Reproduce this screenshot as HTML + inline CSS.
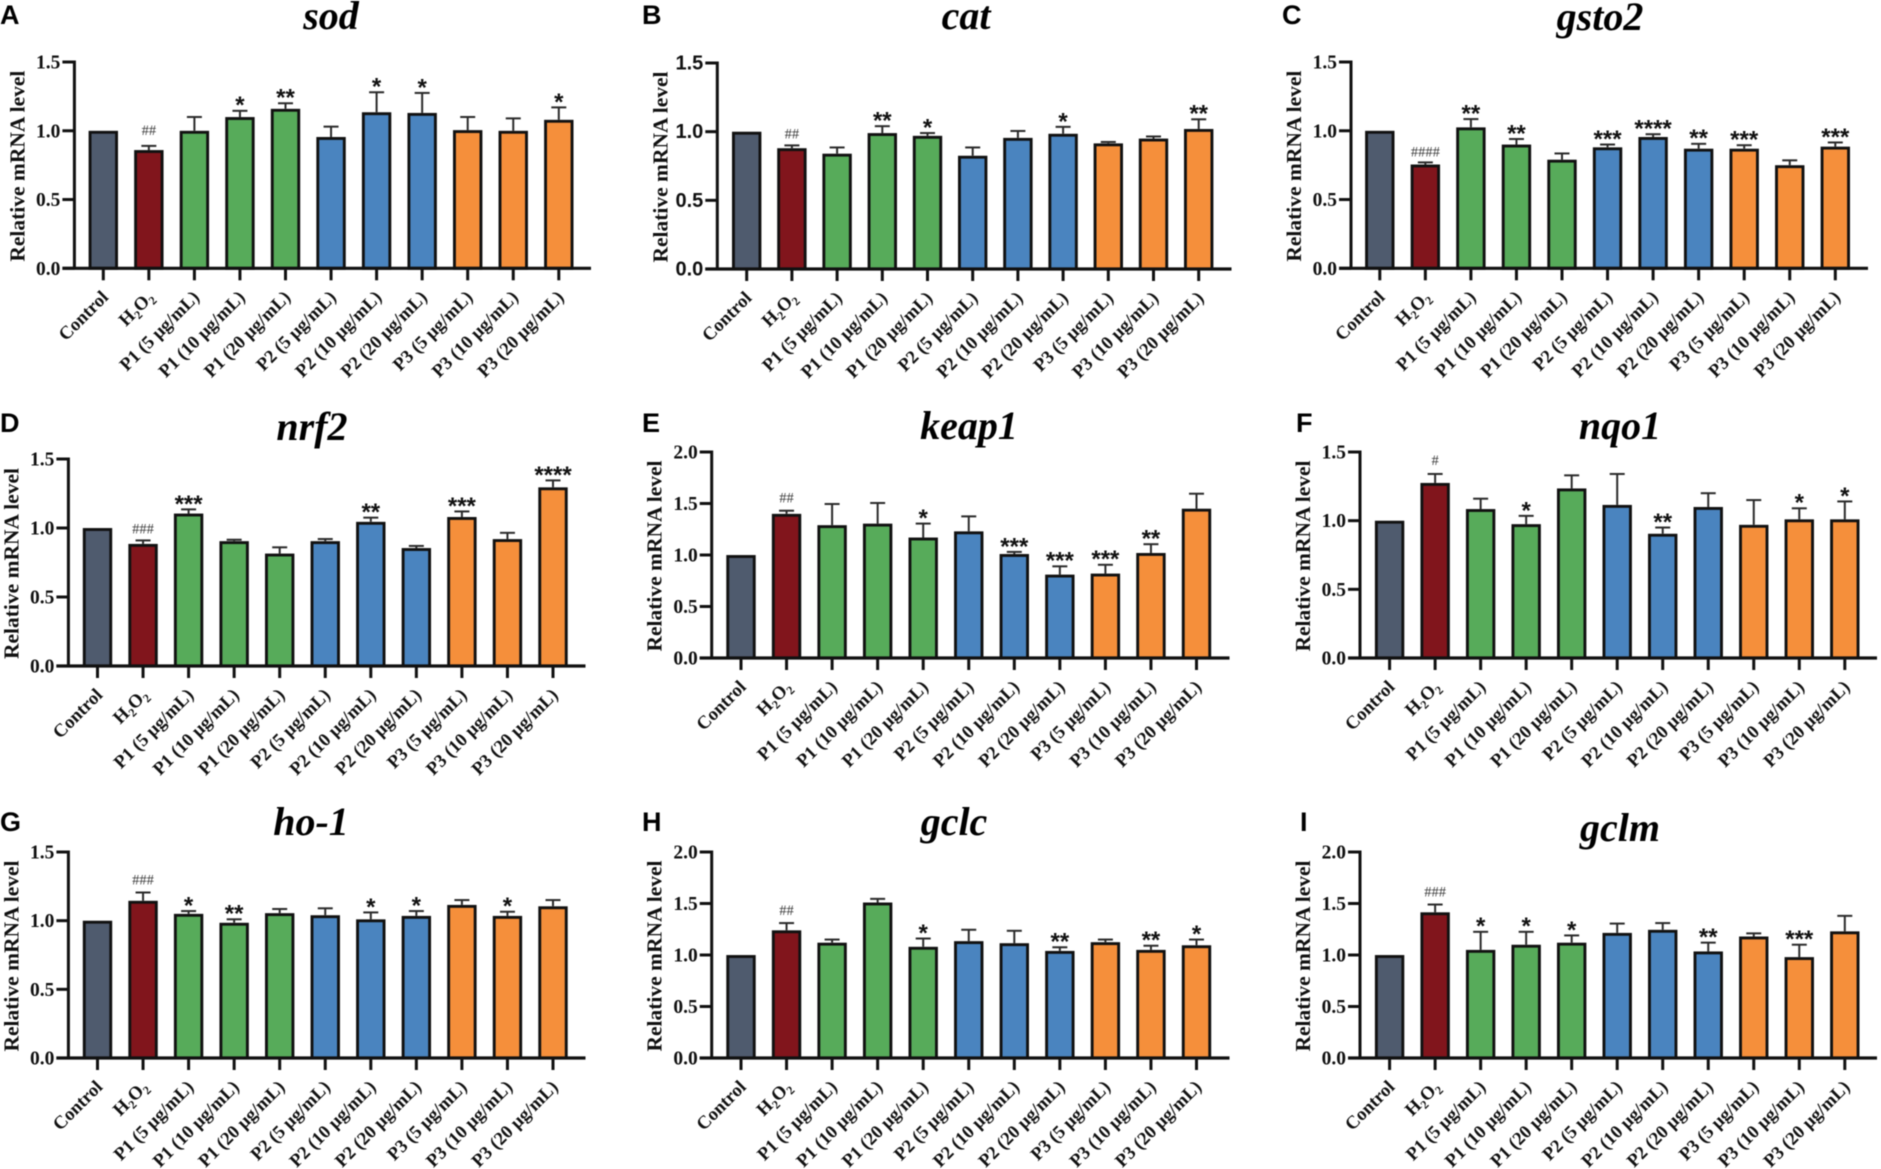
<!DOCTYPE html>
<html lang="en">
<head>
<meta charset="utf-8">
<title>Relative mRNA levels of antioxidant genes</title>
<style>
html,body{margin:0;padding:0;background:#fff;width:1881px;height:1169px;overflow:hidden}
svg{display:block;filter:blur(0.5px)}
text{font-family:"Liberation Serif",serif;fill:#111}
</style>
</head>
<body>
<svg id="figure" xmlns="http://www.w3.org/2000/svg" width="1881" height="1169" viewBox="0 0 1881 1169"></svg>
<script>
const categories = ["Control","H2O2","P1 (5 μg/mL)","P1 (10 μg/mL)","P1 (20 μg/mL)","P2 (5 μg/mL)","P2 (10 μg/mL)","P2 (20 μg/mL)","P3 (5 μg/mL)","P3 (10 μg/mL)","P3 (20 μg/mL)"];
const groupColors = ["#4f5b6e","#81151c","#57ab5a","#57ab5a","#57ab5a","#4a84bf","#4a84bf","#4a84bf","#f58f3b","#f58f3b","#f58f3b"];
const yTicks15 = [0,0.5,1,1.5];
const yTicks20 = [0,0.5,1,1.5,2];

const sodMeans = [1.0,0.86,1.0,1.1,1.16,0.955,1.135,1.13,1.005,1.0,1.08];
const sodTops = [1.0,0.89,1.1,1.145,1.2,1.03,1.28,1.275,1.1,1.09,1.17];
const sodSig = ["","##","","*","**","","*","*","","","*"];

const catMeans = [1.0,0.88,0.84,0.99,0.97,0.825,0.955,0.985,0.915,0.95,1.02];
const catTops = [1.0,0.9,0.885,1.04,0.99,0.885,1.005,1.035,0.925,0.965,1.09];
const catSig = ["","##","","**","*","","","*","","","**"];

const gsto2Means = [1.0,0.755,1.025,0.9,0.79,0.88,0.955,0.87,0.87,0.75,0.885];
const gsto2Tops = [1.0,0.77,1.085,0.94,0.835,0.9,0.975,0.905,0.895,0.785,0.915];
const gsto2Sig = ["","####","**","**","","***","****","**","***","","***"];

const nrf2Means = [1.0,0.885,1.105,0.905,0.815,0.905,1.045,0.855,1.08,0.92,1.295];
const nrf2Tops = [1.0,0.91,1.135,0.915,0.86,0.92,1.075,0.87,1.12,0.965,1.345];
const nrf2Sig = ["","###","***","","","","**","","***","","****"];

const keap1Means = [1.0,1.4,1.29,1.305,1.17,1.23,1.01,0.81,0.82,1.02,1.45];
const keap1Tops = [1.0,1.43,1.495,1.505,1.305,1.375,1.03,0.89,0.905,1.105,1.595];
const keap1Sig = ["","##","","","*","","***","***","***","**",""];

const nqo1Means = [1.0,1.275,1.085,0.975,1.235,1.115,0.905,1.1,0.97,1.01,1.01];
const nqo1Tops = [1.0,1.34,1.16,1.035,1.33,1.34,0.95,1.2,1.15,1.09,1.14];
const nqo1Sig = ["","#","","*","","","**","","","*","*"];

const ho1Means = [1.0,1.145,1.05,0.985,1.055,1.04,1.01,1.035,1.115,1.035,1.105];
const ho1Tops = [1.0,1.205,1.07,1.01,1.085,1.09,1.06,1.07,1.15,1.065,1.15];
const ho1Sig = ["","###","*","**","","","*","*","","*",""];

const gclcMeans = [1.0,1.24,1.12,1.51,1.08,1.135,1.115,1.04,1.125,1.05,1.095];
const gclcTops = [1.0,1.31,1.15,1.545,1.16,1.245,1.235,1.075,1.15,1.09,1.15];
const gclcSig = ["","##","","","*","","","**","","**","*"];

const gclmMeans = [1.0,1.415,1.05,1.1,1.12,1.215,1.245,1.035,1.18,0.98,1.23];
const gclmTops = [1.0,1.49,1.225,1.225,1.19,1.305,1.31,1.12,1.21,1.1,1.38];
const gclmSig = ["","###","*","*","*","","","**","","***",""];

const panels = [
 {letter:"A",gene:"sod",means:sodMeans,tops:sodTops,sig:sodSig,ticks:yTicks15,axisX:74.4,firstX:103.3,stepX:45.55,endX:591,zeroY:268.3,topY:62,titleX:331,titleY:29,letterX:0,letterY:24,hashLift:11},
 {letter:"B",gene:"cat",means:catMeans,tops:catTops,sig:catSig,ticks:yTicks15,axisX:717.3,firstX:746.7,stepX:45.2,endX:1231.5,zeroY:269,topY:63,titleX:966,titleY:29,letterX:642,letterY:24,hashLift:7,sansTicks:true},
 {letter:"C",gene:"gsto2",means:gsto2Means,tops:gsto2Tops,sig:gsto2Sig,ticks:yTicks15,axisX:1351,firstX:1379.8,stepX:45.55,endX:1868,zeroY:268.3,topY:62,titleX:1600,titleY:30,letterX:1282,letterY:24,hashLift:6},
 {letter:"D",gene:"nrf2",means:nrf2Means,tops:nrf2Tops,sig:nrf2Sig,ticks:yTicks15,axisX:68.4,firstX:97.5,stepX:45.55,endX:585.5,zeroY:666,topY:459,titleX:312,titleY:440,letterX:0,letterY:432,hashLift:7},
 {letter:"E",gene:"keap1",means:keap1Means,tops:keap1Tops,sig:keap1Sig,ticks:yTicks20,axisX:711.7,firstX:741,stepX:45.55,endX:1229.5,zeroY:658,topY:452,titleX:969,titleY:439,letterX:642,letterY:432,hashLift:8},
 {letter:"F",gene:"nqo1",means:nqo1Means,tops:nqo1Tops,sig:nqo1Sig,ticks:yTicks15,axisX:1360,firstX:1389.6,stepX:45.52,endX:1877,zeroY:658,topY:452,titleX:1620,titleY:439,letterX:1296,letterY:432,hashLift:9},
 {letter:"G",gene:"ho-1",means:ho1Means,tops:ho1Tops,sig:ho1Sig,ticks:yTicks15,axisX:68.4,firstX:97.5,stepX:45.55,endX:585.5,zeroY:1058,topY:852,titleX:311,titleY:835,letterX:0,letterY:831,hashLift:8},
 {letter:"H",gene:"gclc",means:gclcMeans,tops:gclcTops,sig:gclcSig,ticks:yTicks20,axisX:711.7,firstX:741,stepX:45.55,endX:1229.5,zeroY:1058,topY:852,titleX:954,titleY:835,letterX:642,letterY:831,hashLift:8},
 {letter:"I",gene:"gclm",means:gclmMeans,tops:gclmTops,sig:gclmSig,ticks:yTicks20,axisX:1360,firstX:1389.6,stepX:45.52,endX:1877,zeroY:1058,topY:852,titleX:1620,titleY:841,letterX:1300,letterY:831,hashLift:8}
];

const NS = "http://www.w3.org/2000/svg";
const svg = document.getElementById("figure");
const BAR_W = 26.5;
const CAP_W = 15;
const BAR_TOP_INSET = 1.5;

function make(tag, attrs, parent, text){
  const e = document.createElementNS(NS, tag);
  for (const k in attrs) e.setAttribute(k, attrs[k]);
  if (text !== undefined) e.textContent = text;
  parent.appendChild(e);
  return e;
}

function drawPanel(p){
  const yMax = p.ticks[p.ticks.length-1];
  const yScale = v => p.zeroY - (v / yMax) * (p.zeroY - p.topY);
  const xScale = i => p.firstX + i * p.stepX;

  const g = make("g", {}, svg);
  
  

  const letter = make("text", {x:p.letterX,y:p.letterY,style:'font-family:"Liberation Sans",sans-serif;font-weight:700;font-size:27px;fill:#000'}, g, p.letter);
  
  

  const title = make("text", {x:p.titleX,y:p.titleY,"text-anchor":"middle",style:"font-weight:700;font-style:italic;font-size:40px;fill:#000"}, g, p.gene);
  
  

  const midY = (p.zeroY + p.topY) / 2 + 1;
  const yTitle = make("text", {x:p.axisX-50,y:midY,"text-anchor":"middle",transform:"rotate(-90 "+(p.axisX-50)+" "+midY+")",style:"font-weight:700;font-size:21.5px"}, g, "Relative mRNA level");
  
  

  p.means.forEach((m,i) => {
    const cx = xScale(i);
    if (p.tops[i] > m){
      const stem = make("line", {x1:cx,x2:cx,y1:yScale(m),y2:yScale(p.tops[i]),stroke:"#2a2a2a","stroke-width":2}, g);
      
      
      const cap = make("line", {x1:cx-CAP_W/2,x2:cx+CAP_W/2,y1:yScale(p.tops[i]),y2:yScale(p.tops[i]),stroke:"#2a2a2a","stroke-width":2}, g);
      
      
    }
    const barTop = yScale(m) + BAR_TOP_INSET;
    const bar = make("rect", {x:cx-BAR_W/2,y:barTop,width:BAR_W,height:yScale(0)-barTop,fill:groupColors[i],stroke:"#111","stroke-width":2.9}, g);
    
    

    const tick = make("line", {x1:cx,x2:cx,y1:p.zeroY,y2:p.zeroY+12,stroke:"#111","stroke-width":3}, g);
    
    

    const lx = cx + 6, ly = p.zeroY + 30;
    const label = make("text", {x:lx,y:ly,"text-anchor":"end",transform:"rotate(-45 "+lx+" "+ly+")",style:"font-weight:700;font-size:18.5px"}, g);
    
    
    if (categories[i] === "H2O2"){
      ["H","2","O","2"].forEach((part,j) => {
        const sub = j % 2 === 1;
        const next = j > 0 && !sub;
        const attrs = {};
        if (sub){ attrs.dy = 4; attrs["font-size"] = 12; }
        if (next){ attrs.dy = -4; }
        make("tspan", attrs, label, part);
      });
    } else {
      label.textContent = categories[i];
    }

    const s = p.sig[i];
    if (s){
      const isHash = s[0] === "#";
      const capY = yScale(p.tops[i]);
      const mark = make("text", {x:cx,y:isHash ? capY - p.hashLift : capY + 2.4,"text-anchor":"middle",style:isHash ? "font-size:14.5px;fill:#3a3a3a" : 'font-family:"Liberation Sans",sans-serif;font-weight:700;font-size:24px;fill:#111'}, g, s);
      
      
    }
  });

  const xAxis = make("line", {x1:p.axisX-12,x2:p.endX,y1:p.zeroY,y2:p.zeroY,stroke:"#111","stroke-width":3.2}, g);
  
  

  const yAxis = make("line", {x1:p.axisX,x2:p.axisX,y1:p.topY-1.5,y2:p.zeroY,stroke:"#111","stroke-width":3}, g);
  
  

  p.ticks.forEach(t => {
    const y = yScale(t);
    const yt = make("line", {x1:p.axisX-12,x2:p.axisX,y1:y,y2:y,stroke:"#111","stroke-width":3}, g);
    
    
    const style = p.sansTicks
      ? 'font-family:"Liberation Sans",sans-serif;font-weight:700;font-size:20px'
      : "font-weight:700;font-size:19.5px";
    const yl = make("text", {x:p.axisX-14,y:y+6.5,"text-anchor":"end",style:style}, g, t.toFixed(1));
    
    
  });
}

panels.forEach(drawPanel);
</script>
</body>
</html>
